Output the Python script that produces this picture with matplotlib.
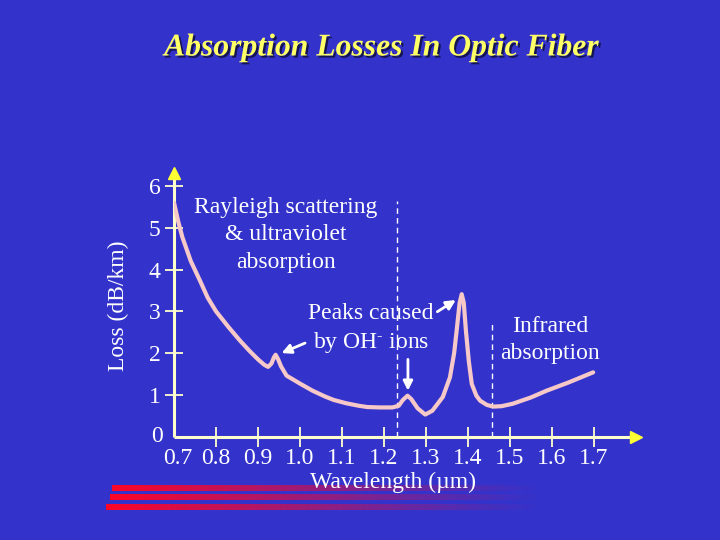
import numpy as np
import matplotlib
matplotlib.use("Agg")
import matplotlib.pyplot as plt
import matplotlib.patheffects as pe

# ---- data ----
wavelength = [0.700, 0.710, 0.720, 0.740, 0.762, 0.780, 0.800, 0.830, 0.857, 0.880,
              0.900, 0.915, 0.924, 0.932, 0.938, 0.942, 0.948, 0.955, 0.968, 0.985,
              1.000, 1.030, 1.060, 1.080, 1.110, 1.140, 1.160, 1.190, 1.220, 1.235,
              1.245, 1.256, 1.265, 1.280, 1.298, 1.315, 1.340, 1.357, 1.367, 1.373,
              1.380, 1.385, 1.390, 1.395, 1.402, 1.409, 1.420, 1.429, 1.445, 1.460,
              1.480, 1.507, 1.550, 1.587, 1.640, 1.698]
loss = [5.60, 5.15, 4.77, 4.20, 3.73, 3.33, 3.00, 2.62, 2.30, 2.05,
        1.85, 1.72, 1.67, 1.75, 1.90, 1.96, 1.85, 1.68, 1.46, 1.36,
        1.27, 1.10, 0.96, 0.88, 0.80, 0.74, 0.71, 0.70, 0.70, 0.74,
        0.88, 0.98, 0.90, 0.68, 0.53, 0.62, 0.95, 1.42, 2.00, 2.54,
        3.20, 3.41, 3.20, 2.54, 1.80, 1.26, 0.98, 0.86, 0.76, 0.72,
        0.73, 0.79, 0.94, 1.10, 1.30, 1.54]
x_ticks = [0.7, 0.8, 0.9, 1.0, 1.1, 1.2, 1.3, 1.4, 1.5, 1.6, 1.7]
x_tick_labels = ["0.7", "0.8", "0.9", "1.0", "1.1", "1.2", "1.3", "1.4", "1.5", "1.6", "1.7"]
y_ticks = [0, 1, 2, 3, 4, 5, 6]
y_tick_labels = ["0", "1", "2", "3", "4", "5", "6"]
region_bounds = [1.23, 1.457]
region_tops = [5.65, 2.7]

BG = "#3333CC"
CURVE = "#F6C8C8"
AXIS = "#FFFFCC"
ARROWHEAD = "#FFFF33"
TITLE = "#FFFF66"

plt.rcParams["font.family"] = ["Liberation Serif", "DejaVu Serif"]
plt.rcParams["mathtext.fontset"] = "custom"
plt.rcParams["mathtext.rm"] = "Liberation Serif"
plt.rcParams["mathtext.it"] = "Liberation Serif:italic"
plt.rcParams["mathtext.bf"] = "Liberation Serif:bold"

W, H = 720, 540
fig = plt.figure(figsize=(7.2, 5.4), dpi=100, facecolor=BG)

# background overlay for decorative bars
bg = fig.add_axes([0, 0, 1, 1], zorder=-1)
bg.set_xlim(0, W)
bg.set_ylim(H, 0)
bg.axis("off")
bg.set_facecolor(BG)
for (x0, y0, y1) in [(112, 486, 491.5), (110, 495, 500.5), (106, 504, 510)]:
    n = 256
    grad = np.zeros((1, n, 4))
    grad[..., 0] = 1.0
    grad[..., 1] = 0.02
    grad[..., 2] = 0.15
    t = np.linspace(0, 1, n)
    grad[0, :, 3] = np.clip(1 - t, 0, 1) ** 1.1
    bg.imshow(grad, extent=(x0, 545, y1, y0), aspect="auto", interpolation="bilinear")

# main axes (pixel geometry: x 0.7 at 174px, 0.1 per 42px; y 0 at 436.7px, 41.8px/unit)
xmin, xmax = 0.7, 1.85
ymin, ymax = 0.0, 6.45
left = 174 / W
bottom = (H - 436.7) / H
width = (xmax - xmin) * 420 / W
height = (ymax - ymin) * 41.8 / H
ax = fig.add_axes([left, bottom, width, height])
ax.set_facecolor("none")
ax.set_xlim(xmin, xmax)
ax.set_ylim(ymin, ymax)
for s in ax.spines.values():
    s.set_visible(False)

# axes lines with arrowheads
ax.plot([xmin, 1.80], [0, 0], color=AXIS, lw=2.2, solid_capstyle="butt", zorder=3, clip_on=False)
ax.plot([xmin, xmin], [0, 6.3], color=AXIS, lw=2.2, solid_capstyle="butt", zorder=3, clip_on=False)
ax.plot([1.80], [0], marker=">", color=ARROWHEAD, ms=9, zorder=4, clip_on=False)
ax.plot([xmin], [6.3], marker="^", color=ARROWHEAD, ms=9, zorder=4, clip_on=False)

ax.set_xticks(x_ticks[1:])
ax.set_xticklabels([])
ax.set_yticks(y_ticks[1:])
ax.set_yticklabels(y_tick_labels[1:])
ax.tick_params(axis="x", direction="inout", length=14, width=1.3, color=AXIS, pad=4)
ax.tick_params(axis="y", direction="inout", length=13, width=1.3, color=AXIS,
               labelcolor="white", labelsize=17, pad=3)
# x tick labels (including 0.7 at origin)
for xv, lab in zip(x_ticks, x_tick_labels):
    ax.annotate(lab, xy=(xv, 0), xycoords="data", xytext=(0 if xv > 0.75 else 3, -16),
                textcoords="offset points", ha="center", va="center",
                color="white", fontsize=17)
ax.annotate(y_tick_labels[0], xy=(xmin, 0), xycoords="data", xytext=(-12, 0),
            textcoords="offset points", ha="center", va="center", color="white", fontsize=17)

# dashed region boundaries
for xb, top in zip(region_bounds, region_tops):
    ax.plot([xb, xb], [0, top], color="white", lw=1, ls=(0, (4, 3)), zorder=2)

# curve
ax.plot(wavelength, loss, color=CURVE, lw=3, solid_joinstyle="round",
        solid_capstyle="round", zorder=5)

# arrows
arrow_kw = dict(arrowstyle="-|>", color="white", lw=2, mutation_scale=14, shrinkA=0, shrinkB=0)
ax.annotate("", xy=(0.956, 2.0), xytext=(1.012, 2.24), arrowprops=arrow_kw, zorder=6)
ax.annotate("", xy=(1.371, 3.27), xytext=(1.327, 2.99), arrowprops=arrow_kw, zorder=6)
ax.annotate("", xy=(1.257, 1.10), xytext=(1.257, 1.85), arrowprops=arrow_kw, zorder=6)

# texts
def ftext(x, y, s, **kw):
    return fig.text(x / W, 1 - y / H, s, **kw)

ftext(286, 235, "Rayleigh scattering\n& ultraviolet\nabsorption", ha="center", va="center",
      color="white", fontsize=17, linespacing=1.38)
ftext(371, 329, "Peaks caused\nby OH$^{\\text{-}}$ ions", ha="center", va="center",
      color="white", fontsize=17, linespacing=1.38)
ftext(550, 340, "Infrared\nabsorption", ha="center", va="center",
      color="white", fontsize=17, linespacing=1.38)
ftext(393, 482, "Wavelength (\u00b5m)", ha="center", va="center", color="white", fontsize=17)
ftext(118, 306, "Loss (dB/km)", ha="center", va="center", color="white", fontsize=17,
      rotation=90)

t = ftext(381, 48, "Absorption Losses In Optic Fiber", ha="center", va="center",
          color=TITLE, fontsize=22.8, fontweight="bold", fontstyle="italic")
t.set_path_effects([pe.SimplePatchShadow(offset=(1.5, -1.5), shadow_rgbFace="#111144", alpha=0.9),
                    pe.Normal()])

fig.savefig("out.png", dpi=100, facecolor=BG)
